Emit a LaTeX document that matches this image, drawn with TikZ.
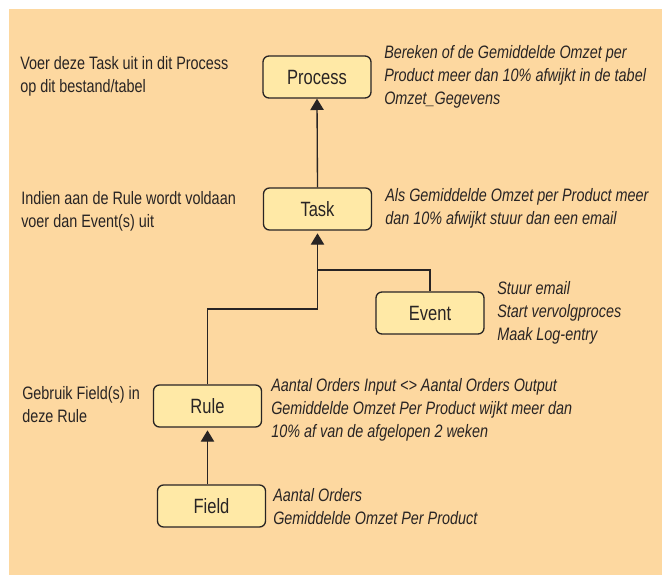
\documentclass[tikz,border=0pt]{standalone}
\usepackage{fontspec}
\setmainfont{Liberation Sans}[FakeStretch=0.8]
\usetikzlibrary{arrows.meta}

\definecolor{peach}{RGB}{253,216,160}
\definecolor{boxfill}{RGB}{255,233,166}
\definecolor{ink}{RGB}{40,36,36}

\tikzset{
  objbox/.style={draw=ink, line width=1pt, fill=boxfill, rounded corners=4.5pt,
    minimum width=81pt, minimum height=31.5pt, inner sep=0pt,
    font=\fontsize{15.5}{18}\selectfont, text=ink},
  % anchored at the baseline of the last line
  lefttxt/.style={anchor=base west, align=left, inner sep=0pt, text=ink,
    font=\fontsize{13.5}{17.25}\selectfont},
  righttxt/.style={lefttxt, font=\fontsize{13.5}{17.25}\selectfont\itshape},
  arr/.style={draw=ink, line width=1pt, -{Triangle[width=10pt,length=8.5pt]}},
  link/.style={draw=ink, line width=1pt}
}

\begin{document}
\begin{tikzpicture}[x=0.75pt,y=-0.75pt]
% page and background
\useasboundingbox (0,0) rectangle (662,575);
\fill[white] (0,0) rectangle (662,575);
\fill[peach] (9,9) rectangle (662,575);

% the boxes
\node[objbox] (process) at (317,77) {Process};
\node[objbox] (task) at (317.5,209) {Task};
\node[objbox] (event) at (430,313) {Event};
\node[objbox] (rule) at (207.5,406) {Rule};
\node[objbox] (field) at (211.5,506) {Field};

% connectors
\coordinate (jtop) at (317.5,270);
\coordinate (jlow) at (317.5,309);
\draw[arr] (task.north) -- (process.south);
\draw[link] (event.north) |- (jtop);
\draw[arr, shorten >=2pt] (rule.north) |- (jlow) -- (task.south);
\draw[arr, shorten >=2pt] (field.north -| rule.south) -- (rule.south);

% left side texts
\node[lefttxt] (lproc) at (20,92) {Voer deze Task uit in dit Process\\op dit bestand/tabel};
\node[lefttxt] (ltask) at (21,227) {Indien aan de Rule wordt voldaan\\voer dan Event(s) uit};
\node[lefttxt] (lrule) at (22,422) {Gebruik Field(s) in\\deze Rule};

% right side texts (examples)
\node[righttxt] (rproc) at (384,104) {Bereken of de Gemiddelde Omzet per\\Product meer dan 10\% afwijkt in de tabel\\Omzet\_Gegevens};
\node[righttxt] (rtask) at (385,224) {Als Gemiddelde Omzet per Product meer\\dan 10\% afwijkt stuur dan een email};
\node[righttxt] (revent) at (497,340) {Stuur email\\Start vervolgproces\\Maak Log-entry};
\node[righttxt] (rrule) at (271,437) {Aantal Orders Input <> Aantal Orders Output\\Gemiddelde Omzet Per Product wijkt meer dan\\10\% af van de afgelopen 2 weken};
\node[righttxt] (rfield) at (273,524) {Aantal Orders\\Gemiddelde Omzet Per Product};
\end{tikzpicture}
\end{document}
